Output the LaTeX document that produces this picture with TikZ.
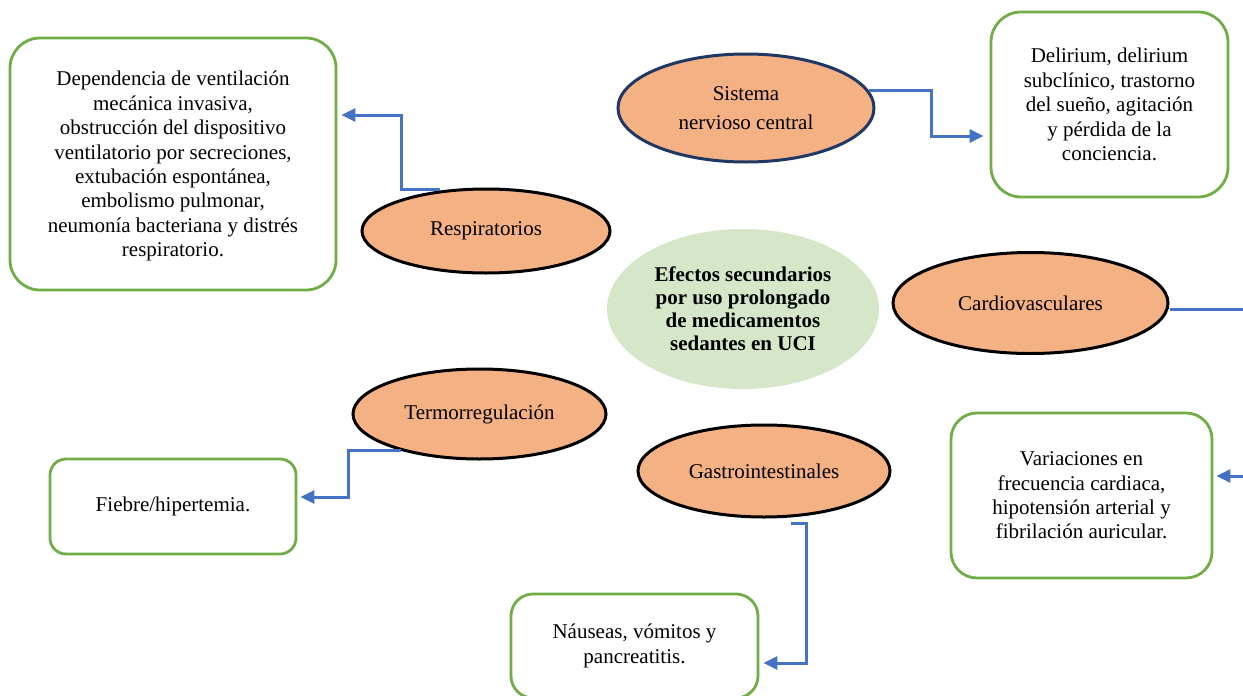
\documentclass[tikz,border=0pt]{standalone}
\usepackage{fontspec}
\setmainfont{Liberation Serif}
\usetikzlibrary{shapes.geometric,arrows.meta}
\definecolor{boxgreen}{RGB}{112,173,71}
\definecolor{orangefill}{RGB}{244,177,131}
\definecolor{connblue}{RGB}{68,114,196}
\definecolor{centerfill}{RGB}{213,231,200}
\definecolor{navy}{RGB}{32,56,100}
\tikzset{
  txt/.style={font=\fontsize{21}{24.4}\selectfont, align=center, text=black},
  gbox/.style={txt, draw=boxgreen, line width=2.8pt, fill=white, inner sep=0pt},
  oval/.style={txt, ellipse, draw=black, line width=3pt, fill=orangefill, inner sep=0pt},
  conn/.style={draw=connblue, line width=3pt, -{Triangle[length=14pt,width=13pt]}},
}
\begin{document}
\begin{tikzpicture}[x=1pt,y=-1pt]
\useasboundingbox (0,0) rectangle (1243,696);
% boxes
\node[gbox, rounded corners=30pt, minimum width=326pt, minimum height=252pt, text depth=-4pt] (rbox) at (173,164)
 {Dependencia de ventilación\\mecánica invasiva,\\obstrucción del dispositivo\\ventilatorio por secreciones,\\extubación espontánea,\\embolismo pulmonar,\\neumonía bacteriana y distrés\\respiratorio.};
\node[gbox, rounded corners=30pt, minimum width=237pt, minimum height=185pt] (cbox) at (1109.5,104.5)
 {Delirium, delirium\\subclínico, trastorno\\del sueño, agitación\\y pérdida de la\\conciencia.};
\node[gbox, rounded corners=26pt, minimum width=261pt, minimum height=165pt] (kbox) at (1081.5,495.5)
 {Variaciones en\\frecuencia cardiaca,\\hipotensión arterial y\\fibrilación auricular.};
\node[gbox, rounded corners=16pt, minimum width=246pt, minimum height=95pt] (tbox) at (173,506.5)
 {Fiebre/hipertemia.};
\node[gbox, rounded corners=22pt, minimum width=247pt, minimum height=104pt] (gbox) at (634.5,646)
 {Náuseas, vómitos y\\pancreatitis.};
% ellipses
\node[txt, ellipse, fill=centerfill, inner sep=0pt, minimum width=272pt, minimum height=160pt,
      font=\fontsize{21}{23}\selectfont\bfseries] (center) at (743,309)
 {Efectos secundarios\\por uso prolongado\\de medicamentos\\sedantes en UCI};
\node[oval, minimum width=248pt, minimum height=84pt] (resp) at (486,231) {Respiratorios};
\node[oval, draw=navy, minimum width=256pt, minimum height=108pt,
      font=\fontsize{21}{29}\selectfont] (cns) at (746,108) {Sistema\\nervioso central};
\node[oval, minimum width=275pt, minimum height=101pt] (card) at (1030.5,303) {Cardiovasculares};
\node[oval, minimum width=253pt, minimum height=90pt] (termo) at (479.5,414) {Termorregulación};
\node[oval, minimum width=252pt, minimum height=92pt] (gastro) at (764,471) {Gastrointestinales};
% connectors
\path (resp.north -| 440,0) ++(0,2) coordinate (rs);
\draw[conn] (rs) -| (401,115) -- ([xshift=4pt]rbox.east |- 0,115);
\draw[conn] (cns.8) -| (931,136) -- ([xshift=-6pt]cbox.west |- 0,136);
\begin{scope}
\clip (0,0) rectangle (1243,696);
\draw[conn] (card.east |- 1166,309) -- (1265,309) -- (1265,476) -- ([xshift=3pt]kbox.east |- 0,476);
\end{scope}
\draw[conn] (termo.205) -| (348,497) -- ([xshift=3pt]tbox.east |- 0,497);
\draw[conn] ([xshift=27pt,yshift=-5pt]gastro.south) -| (806,663) -- ([xshift=4pt]gbox.east |- 0,663);
\end{tikzpicture}
\end{document}
